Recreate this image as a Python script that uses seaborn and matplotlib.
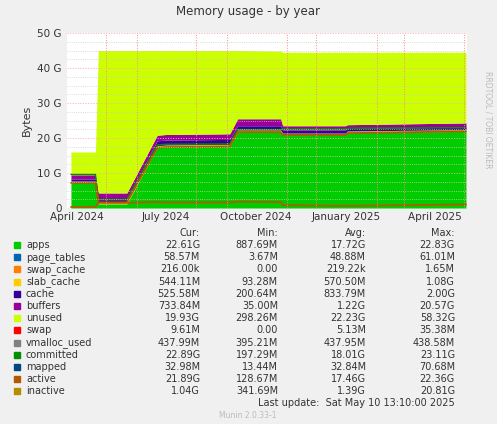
import numpy as np
import pandas as pd
import seaborn as sns
import matplotlib.pyplot as plt
import matplotlib.dates as mdates

# breakpoints (values in GB)
dates = ["2024-03-26", "2024-04-20", "2024-04-23", "2024-05-22", "2024-06-22", "2024-07-01",
         "2024-09-04", "2024-09-12", "2024-10-26", "2024-10-28", "2024-12-31", "2025-01-02", "2025-05-03"]
apps = [7.3, 7.3, 1.2, 1.2, 17.3, 17.5, 17.7, 21.8, 21.8, 21.0, 21.0, 21.5, 21.9]
slab = [0.4, 0.4, 0.4, 0.4, 0.5, 0.5, 0.5, 0.5, 0.5, 0.4, 0.4, 0.5, 0.5]
cache = [0.6, 0.6, 0.8, 0.8, 1.4, 1.4, 1.4, 1.2, 1.2, 0.9, 0.9, 0.7, 0.7]
buffers = [1.2, 1.2, 1.9, 1.9, 1.6, 1.6, 1.6, 2.0, 2.0, 1.2, 1.2, 1.1, 1.2]
total = [16.0, 16.0, 45.0, 45.0, 45.0, 45.0, 45.0, 45.0, 44.8, 44.5, 44.5, 44.5, 44.5]
committed = [9.6, 9.6, 2.4, 2.4, 18.0, 18.2, 18.3, 22.4, 22.4, 22.6, 22.6, 22.8, 22.9]
active = [7.2, 7.2, 1.6, 1.6, 17.2, 17.4, 17.6, 21.7, 21.7, 20.9, 20.9, 21.4, 21.9]
inactive = [0.3, 0.3, 1.5, 1.5, 1.7, 1.6, 1.6, 1.8, 1.7, 0.8, 0.6, 0.6, 1.0]

legend_names = ["apps", "page_tables", "swap_cache", "slab_cache", "cache", "buffers", "unused",
                "swap", "vmalloc_used", "committed", "mapped", "active", "inactive"]
legend_colors = ["#00CC00", "#0066B3", "#FF8000", "#FFCC00", "#330099", "#990099", "#CCFF00",
                 "#FF0000", "#808080", "#008F00", "#00487D", "#B35A00", "#B38F00"]
cur = ["22.61G", "58.57M", "216.00k", "544.11M", "525.58M", "733.84M", "19.93G", "9.61M",
       "437.99M", "22.89G", "32.98M", "21.89G", "1.04G"]
mins = ["887.69M", "3.67M", "0.00", "93.28M", "200.64M", "35.00M", "298.26M", "0.00",
        "395.21M", "197.29M", "13.44M", "128.67M", "341.69M"]
avgs = ["17.72G", "48.88M", "219.22k", "570.50M", "833.79M", "1.22G", "22.23G", "5.13M",
        "437.95M", "18.01G", "32.84M", "17.46G", "1.39G"]
maxs = ["22.83G", "61.01M", "1.65M", "1.08G", "2.00G", "20.57G", "58.32G", "35.38M",
        "438.58M", "23.11G", "70.68M", "22.36G", "20.81G"]

df = pd.DataFrame({"date": pd.to_datetime(dates), "apps": apps, "slab": slab, "cache": cache,
                   "buffers": buffers, "total": total, "committed": committed,
                   "active": active, "inactive": inactive})

sns.set_theme(style="white")
plt.rcParams["font.family"] = ["DejaVu Sans"]
W, H = 497, 424
fig = plt.figure(figsize=(W / 100, H / 100), dpi=100, facecolor="#F0F0F0")
ax = fig.add_axes([67 / W, 1 - 208 / H, 400 / W, 175 / H])
ax.set_facecolor("white")

x = df["date"]
b1 = df["apps"]
b2 = b1 + df["slab"]
b3 = b2 + df["cache"]
b4 = b3 + df["buffers"]
ax.fill_between(x, 0, b1, color="#00CC00", lw=0)
ax.fill_between(x, b1, b2, color="#FFCC00", lw=0)
ax.fill_between(x, b2, b3, color="#330099", lw=0)
ax.fill_between(x, b3, b4, color="#990099", lw=0)
ax.fill_between(x, b4, df["total"], color="#CCFF00", lw=0)
sns.lineplot(data=df, x="date", y="committed", ax=ax, color="#008F00", lw=1)
sns.lineplot(data=df, x="date", y="active", ax=ax, color="#B35A00", lw=1.3)
sns.lineplot(data=df, x="date", y="inactive", ax=ax, color="#B35A00", lw=1.3)

ax.set_xlim(pd.Timestamp("2024-03-22"), pd.Timestamp("2025-05-04"))
ax.set_ylim(0, 50)
ax.set_yticks(range(0, 51, 10))
ax.set_yticklabels(["0"] + [f"{v} G" for v in range(10, 51, 10)])
ax.set_yticks(np.arange(0, 50, 2.5), minor=True)
ax.xaxis.set_major_locator(mdates.MonthLocator(bymonth=[1, 4, 7, 10]))
ax.xaxis.set_major_formatter(mdates.DateFormatter("%B %Y"))
ax.xaxis.set_minor_locator(mdates.MonthLocator())
ax.grid(True, which="major", axis="y", color="#FFAAAA", ls=":", lw=0.7)
ax.grid(True, which="minor", axis="y", color="#CCCCCC", ls=":", lw=0.6)
ax.grid(True, which="minor", axis="x", color="#FF8888", ls=":", lw=0.7)
ax.set_axisbelow(False)
ax.tick_params(axis="y", labelsize=7.5, colors="#333333", length=0, pad=4)
ax.tick_params(axis="x", labelsize=7.5, colors="#333333", length=0, pad=3)
ax.set_xlabel("")
ax.set_ylabel("Bytes", fontsize=8, color="#333333")
for s in ax.spines.values():
    s.set_visible(False)

fig.text(248 / W, 1 - 12 / H, "Memory usage - by year", ha="center", va="center",
         fontsize=8.5, color="#333333")
fig.text(488 / W, 1 - 120 / H, "RRDTOOL / TOBI OETIKER", rotation=270, ha="center",
         va="center", fontsize=5.5, color="#BBBBBB")

fs = 7
for col, xr in [("Cur:", 200), ("Min:", 278), ("Avg:", 366), ("Max:", 455)]:
    fig.text(xr / W, 1 - 233 / H, col, ha="right", va="center", fontsize=fs, color="#333333")
for i, name in enumerate(legend_names):
    yy = 1 - (245 + i * 12.2) / H
    fig.patches.append(plt.Rectangle((14 / W, yy - 3 / H), 6 / W, 6 / H, color=legend_colors[i],
                                     transform=fig.transFigure, figure=fig))
    fig.text(26 / W, yy, name, ha="left", va="center", fontsize=fs, color="#333333")
    for val, xr in [(cur[i], 200), (mins[i], 278), (avgs[i], 366), (maxs[i], 455)]:
        fig.text(xr / W, yy, val, ha="right", va="center", fontsize=fs, color="#333333")
fig.text(455 / W, 1 - 403 / H, "Last update:  Sat May 10 13:10:00 2025", ha="right",
         va="center", fontsize=fs, color="#333333")
fig.text(248 / W, 1 - 415 / H, "Munin 2.0.33-1", ha="center", va="center", fontsize=5.5,
         color="#BBBBBB")

fig.savefig("out.png", dpi=100, facecolor=fig.get_facecolor())
